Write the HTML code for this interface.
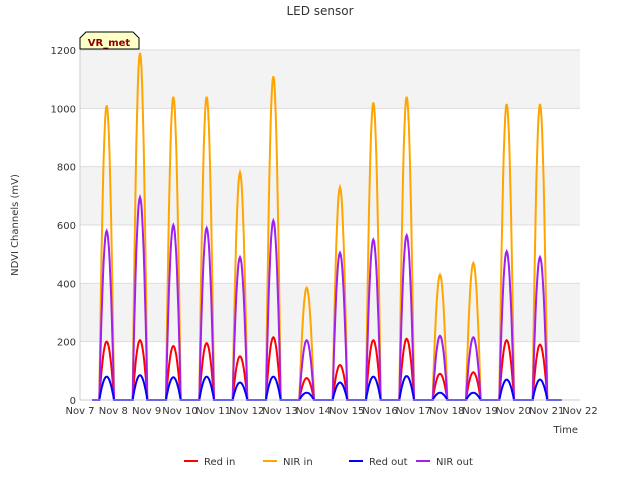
<!DOCTYPE html>
<html><head><meta charset="utf-8"><style>
body{margin:0;background:#fff;font-family:"DejaVu Sans",sans-serif}
</style></head><body>
<svg id="c" width="640" height="480" xmlns="http://www.w3.org/2000/svg" style="font-family:'DejaVu Sans',sans-serif">
<rect width="640" height="480" fill="#fff"/>
<text x="320" y="15" text-anchor="middle" font-size="12" fill="#333">LED sensor</text>
<g id="grid"></g>
<g id="series"></g>
<g id="axes"></g>
<text x="18" y="225" transform="rotate(-90 18 225)" text-anchor="middle" font-size="10" fill="#333">NDVI Channels (mV)</text>
<text x="578" y="433" text-anchor="end" font-size="10" fill="#333">Time</text>
<g>
<path d="M80,49 L80,38 L86,32 L133,32 L139,38 L139,49 Z" fill="#ffffc8" stroke="#000" stroke-width="1"/>
<text x="109" y="46" text-anchor="middle" font-size="10" font-weight="bold" fill="#8b0000">VR_met</text>
</g>
<g id="legend"></g>
</svg>
<script>
const dayLabels=["Nov 7","Nov 8","Nov 9","Nov 10","Nov 11","Nov 12","Nov 13","Nov 14","Nov 15","Nov 16","Nov 17","Nov 18","Nov 19","Nov 20","Nov 21","Nov 22"];
const yTicks=[0,200,400,600,800,1000,1200];
const seriesNames=["Red in","NIR in","Red out","NIR out"];
const seriesColors=["#ff0000","#ffa500","#0000ff","#a020f0"];
const nirIn=[1010,1190,1040,1040,780,1110,385,730,1020,1040,430,470,1015,1015];
const nirOut=[580,695,600,590,490,615,205,505,550,565,220,215,510,490];
const redIn=[200,205,185,195,150,215,75,120,205,210,90,95,205,190];
const redOut=[80,85,78,80,60,80,25,60,80,82,25,25,70,70];
const X0=80,X1=580,Y0=400,Y1=50;
const xs=d=>X0+(X1-X0)*d/15;
const ys=v=>Y0-(Y0-Y1)*v/1200;
const NS="http://www.w3.org/2000/svg";
function mk(t,a,p){const e=document.createElementNS(NS,t);for(const k in a)e.setAttribute(k,a[k]);p.appendChild(e);return e;}
const grid=document.getElementById('grid');
for(let i=0;i<6;i++){if(i%2==1){const r=mk('rect',{x:X0,y:ys(yTicks[i+1]),width:X1-X0,height:ys(yTicks[i])-ys(yTicks[i+1]),fill:'#f3f3f3'},grid);}}
const axes=document.getElementById('axes');
yTicks.forEach(v=>{const l=mk('line',{x1:X0,x2:X1,y1:ys(v),y2:ys(v),stroke:'#ddd'},grid);
const t=mk('text',{x:X0-4,y:ys(v)+4,'text-anchor':'end','font-size':10,fill:'#333'},axes);t.textContent=v;});
mk('line',{x1:X0,x2:X0,y1:Y1,y2:Y0,stroke:'#ccc'},axes);
mk('line',{x1:X0,x2:X1,y1:Y0,y2:Y0,stroke:'#ccc'},axes);
dayLabels.forEach((d,i)=>{const t=mk('text',{x:xs(i),y:414,'text-anchor':'middle','font-size':10,fill:'#333'},axes);t.textContent=d;});
const data=[redIn,nirIn,redOut,nirOut];
const order=[1,0,3,2];
const sg=document.getElementById('series');
order.forEach(si=>{
  const vals=data[si];let pts=[[xs(0.36),ys(0)]];
  vals.forEach((pk,d)=>{
    const c=d+0.8,hw=0.22;
    pts.push([xs(c-hw),ys(0)]);
    for(let k=0;k<=20;k++){const t=-hw+2*hw*k/20;const f=Math.pow(Math.max(0,Math.cos(Math.PI/2*t/hw)),0.9);pts.push([xs(c+t),ys(pk*f)]);}
  });
  pts.push([xs(14.45),ys(0)]);
  const p=mk('polyline',{points:pts.map(q=>q[0].toFixed(1)+','+q[1].toFixed(1)).join(' '),fill:'none',stroke:seriesColors[si],'stroke-width':2},sg);
  
  
});
const lg=document.getElementById('legend');
const lx=[184,263,349,416];
seriesNames.forEach((n,i)=>{const g=mk('g',{},lg);
mk('line',{x1:lx[i],x2:lx[i]+14,y1:461,y2:461,stroke:seriesColors[i],'stroke-width':2},g);
const t=mk('text',{x:lx[i]+20,y:465,'font-size':10,fill:'#333'},g);t.textContent=n;});
</script>
</body></html>
